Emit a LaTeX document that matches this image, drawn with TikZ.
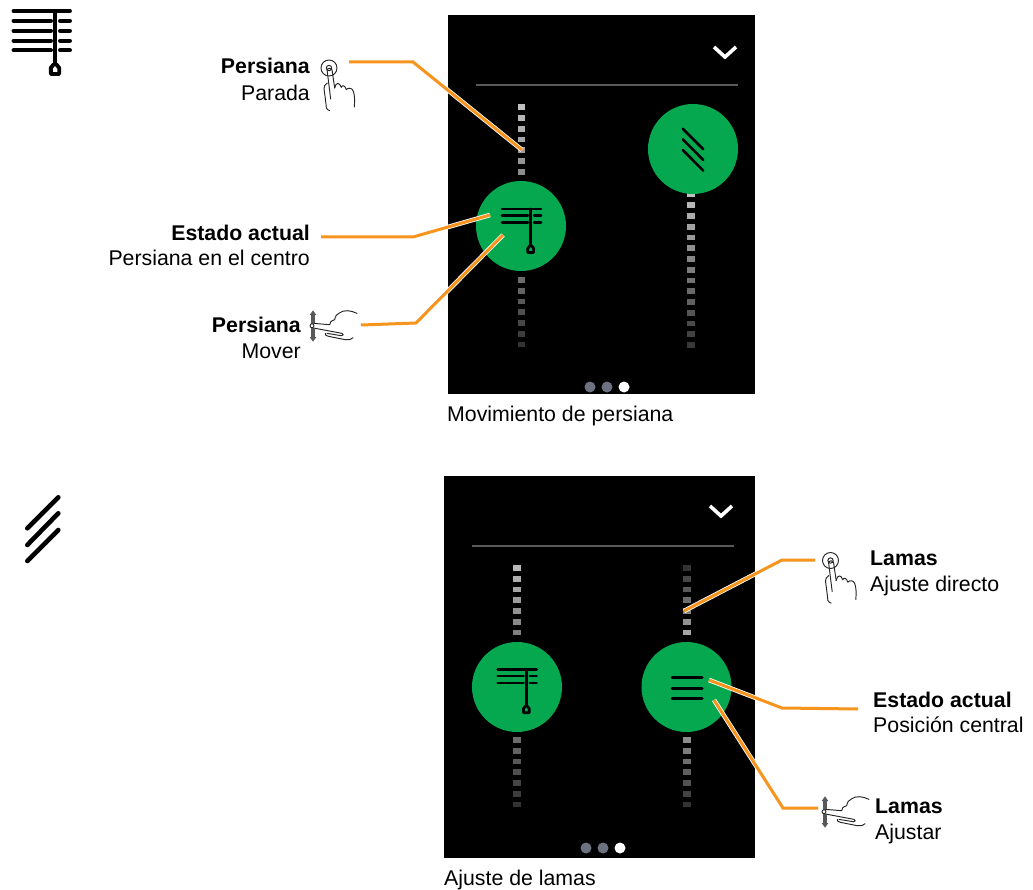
\documentclass[tikz,border=0pt]{standalone}
\usepackage{fontspec}
\setmainfont{Liberation Sans}
\newcommand{\dashcol}[5]{% x, first y, count, first gray, last gray
  \foreach \i in {1,...,#3}{
    \pgfmathsetmacro{\yy}{#2+(\i-1)*10.75}
    \pgfmathsetmacro{\gg}{100*(#4+(#5-#4)*(\i-1)/max(#3-1,1))}
    \fill[white!\gg!black] (#1-3.6,\yy-2.8) rectangle (#1+3.6,\yy+2.8);
  }}
\newcommand{\blindicon}[3]{% x of cord, y of top, scale
  \begin{scope}[shift={(#1,#2)},scale=#3,line cap=round,line width=#3*3.9pt]
    \draw (-41.5,0) -- (15,0);
    \draw (-41.5,9.8) -- (-4,9.8) (5,9.8) -- (15,9.8);
    \draw (-41.5,19.8) -- (-4,19.8) (5,19.8) -- (15,19.8);
  \end{scope}}
\newcommand{\moreslats}[2]{%
  \begin{scope}[shift={(#1,#2)},line cap=round,line width=3.9pt]
    \draw (-41.5,29.7) -- (-4,29.7) (5,29.7) -- (15,29.7);
    \draw (-41.5,39.3) -- (-4,39.3) (5,39.3) -- (15,39.3);
  \end{scope}}
\newcommand{\cordicon}[4]{% x, y, scale, cord length
  \begin{scope}[shift={(#1,#2)},scale=#3,line width=#3*3.9pt,line join=round,line cap=round]
    \draw (0,0) -- (0,#4);
    \draw (-1.5,#4+1.5) -- (1.5,#4+1.5) -- (4.2,#4+5) -- (4.2,#4+11) -- (-4.2,#4+11) -- (-4.2,#4+5) -- cycle;
  \end{scope}}
\newcommand{\taphand}[2]{%
  \begin{scope}[shift={(#1,#2)},scale=1/3,line width=.95pt,black!85,line cap=round,line join=round]
    \draw (0,0) circle (24);
    \draw (0,0) circle (8);
    \draw (-6,4) -- (5,93) (9,5) -- (17,60) (-6,4) to[bend left=60] (9,5);
    \draw (17,60) .. controls (20,42) and (32,42) .. (37,58)
          .. controls (40,50) and (48,52) .. (52,65)
          .. controls (56,58) and (70,60) .. (72,68)
          .. controls (78,80) and (77,100) .. (76,117);
    \draw (-5,45) .. controls (-12,50) and (-16,55) .. (-15,62)
          .. controls (-12,85) and (-9,105) .. (-8,120)
          .. controls (-6,125) and (-2,126) .. (2,128);
  \end{scope}}
\newcommand{\swipehand}[2]{%
  \begin{scope}[shift={(#1,#2)},scale=1/3,line cap=round,line join=round]
    \draw[black!65,line width=4pt,line cap=butt] (3,-36) -- (3,36);
    \fill[black!65] (3,-46) -- (13,-32) -- (-7,-32) -- cycle (3,48) -- (13,34) -- (-7,34) -- cycle;
    \begin{scope}[line width=.95pt,black!85]
      \draw[white,fill=white] (5,-6) -- (50,-2) -- (90,23) -- (45,23) -- (5,6) -- cycle;
      \draw (5,-7) -- (53,-3) .. controls (52,-10) and (58,-15) .. (68,-18)
            .. controls (70,-30) and (75,-35) .. (82,-38)
            .. controls (95,-48) and (115,-47) .. (135,-37);
      \draw (5,7) -- (90,23) .. controls (95,25) and (95,30) .. (88,30) -- (45,23);
      \draw (40,23) .. controls (38,28) and (42,30) .. (50,32) -- (100,42) .. controls (110,44) and (118,42) .. (123,36);
      \draw[fill=white] (0,0) circle (6);
    \end{scope}
  \end{scope}}
\tikzset{
  conn/.style={draw=orange1,line width=3pt,line join=miter,preaction={draw=white,line width=4.6pt}},
  lab/.style={inner sep=0pt,font=\fontsize{21.3}{24}\selectfont},
  labb/.style={lab,font=\fontsize{21.3}{24}\selectfont\bfseries},
  screen/.style={fill=black,draw=none},
  knob/.style={fill=green1,draw=none},
  pagedot/.style={circle,fill=#1,minimum size=11pt,inner sep=0pt,draw=none},
  sep/.style={draw=black!65!white,line width=2pt},
  chev/.style={draw=white,line width=3.6pt,line cap=butt,line join=miter},
}
\definecolor{orange1}{HTML}{F7941D}
\definecolor{green1}{HTML}{05A84F}
\definecolor{dot1}{HTML}{6D7280}
\begin{document}
\begin{tikzpicture}[x=1pt,y=-1pt]
\useasboundingbox (0,0) rectangle (1033,890);
\fill[white] (0,0) rectangle (1033,890);

% side icons
\blindicon{55}{11}{1}
\moreslats{55}{11}
\cordicon{55}{11}{1}{52}
\begin{scope}[line width=4.6pt,line cap=round]
  \draw (27.3,528.3) -- (58.3,497.3);
  \draw (27.3,545) -- (58.3,513.3);
  \draw (27.3,561) -- (58.3,530);
\end{scope}

% upper screen
\fill[screen] (448,15) rectangle (755,394);
\draw[chev] (714,47) -- (725,57) -- (736,47);
\draw[sep] (476,85) -- (738,85);
\dashcol{521.5}{107.3}{7}{.75}{.55}
\dashcol{521.5}{280}{7}{.42}{.2}
\dashcol{691}{194.5}{15}{.75}{.22}
\node[knob,circle,minimum size=90pt,inner sep=0pt] (k1) at (521,226) {};
\node[knob,circle,minimum size=90pt,inner sep=0pt] (k2) at (693,149) {};
\blindicon{530.7}{209}{.69}
\cordicon{530.7}{209}{.69}{52}
\begin{scope}[line width=2.6pt,line cap=round]
  \draw (682.7,128.7) -- (703.3,149.3);
  \draw (682.7,139.3) -- (703.3,160);
  \draw (682.7,150) -- (703.3,170.7);
\end{scope}
\node[pagedot=dot1] (d1) at (590,387) {};
\node[pagedot=dot1] (d2) at (607,387) {};
\node[pagedot=white] (d3) at (624,387) {};

% lower screen
\fill[screen] (444,476) rectangle (755,858);
\draw[chev] (710,506) -- (721,516) -- (732,506);
\draw[sep] (472,545.5) -- (734,545.5);
\dashcol{517}{568}{7}{.72}{.5}
\dashcol{517}{740}{7}{.42}{.2}
\dashcol{687}{568}{7}{.2}{.65}
\dashcol{687}{740}{7}{.55}{.2}
\node[knob,circle,minimum size=90pt,inner sep=0pt] (k3) at (517,687) {};
\node[knob,circle,minimum size=90pt,inner sep=0pt] (k4) at (686.5,687) {};
\blindicon{526.3}{669.3}{.69}
\cordicon{526.3}{669.3}{.69}{52}
\begin{scope}[line width=3pt,line cap=round]
  \draw (672,677.3) -- (702,677.3);
  \draw (672,688) -- (702,688);
  \draw (672,698.7) -- (702,698.7);
\end{scope}
\node[pagedot=dot1] (d4) at (586,848) {};
\node[pagedot=dot1] (d5) at (603,848) {};
\node[pagedot=white] (d6) at (620,848) {};

% hand icons
\taphand{329}{68}
\swipehand{312}{325.7}
\taphand{830.5}{560.5}
\swipehand{824}{811.7}

% labels
\node[labb,anchor=base east] (t1) at (310,74) {Persiana};
\node[lab,anchor=base east] (t2) at (310,100.5) {Parada};
\node[labb,anchor=base east] (t3) at (310,241) {Estado actual};
\node[lab,anchor=base east] (t4) at (310,266) {Persiana en el centro};
\node[labb,anchor=base east] (t5) at (301,333) {Persiana};
\node[lab,anchor=base east] (t6) at (301,359) {Mover};
\node[lab,anchor=base west] (t7) at (447,421) {Movimiento de persiana};
\node[labb,anchor=base west] (t8) at (870,565.5) {Lamas};
\node[lab,anchor=base west] (t9) at (870,591) {Ajuste directo};
\node[labb,anchor=base west] (t10) at (873,707.5) {Estado actual};
\node[lab,anchor=base west] (t11) at (873,732) {Posición central};
\node[labb,anchor=base west] (t12) at (875,813.5) {Lamas};
\node[lab,anchor=base west] (t13) at (875,839) {Ajustar};
\node[lab,anchor=base west] (t14) at (444,885) {Ajuste de lamas};

% connectors
\coordinate (a1) at (349,62);   \coordinate (b1) at (522,150);
\coordinate (a2) at (321,237);  \coordinate (b2) at (490,215);
\coordinate (a3) at (361,325);  \coordinate (b3) at (503,235);
\coordinate (a4) at (815,560);  \coordinate (b4) at (684,611);
\coordinate (a5) at (858,709);  \coordinate (b5) at (709,680);
\coordinate (a6) at (818,808);  \coordinate (b6) at (714,700);
\draw[conn] (a1) -- (413,62) -- (b1);
\draw[conn] (a2) -- (413,237) -- (b2);
\draw[conn] (a3) -- (416,323) -- (b3);
\draw[conn] (a4) -- (782,560) -- (b4);
\draw[conn] (a5) -- (782,708) -- (b5);
\draw[conn] (a6) -- (783,808) -- (b6);
\end{tikzpicture}
\end{document}
